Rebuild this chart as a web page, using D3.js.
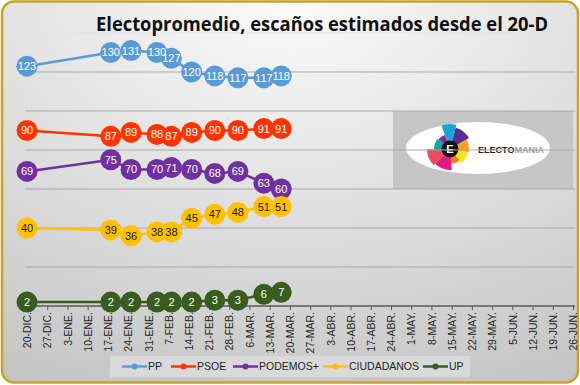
<!DOCTYPE html>
<html>
<head>
<meta charset="utf-8">
<script src="https://cdn.jsdelivr.net/npm/d3@7"></script>
<style>
  body { margin: 0; background: #fff; }
  svg { display: block; }
</style>
</head>
<body>
<div class="chart"></div>
<script>
// datos
const fechas = ["2015-12-20", "2016-01-18", "2016-01-25", "2016-02-03", "2016-02-08",
                "2016-02-15", "2016-02-23", "2016-03-02", "2016-03-11", "2016-03-17"];
const pp         = [123, 130, 131, 130, 127, 120, 118, 117, 117, 118];
const psoe       = [90, 87, 89, 88, 87, 89, 90, 90, 91, 91];
const podemos    = [69, 75, 70, 70, 71, 70, 68, 69, 63, 60];
const ciudadanos = [40, 39, 36, 38, 38, 45, 47, 48, 51, 51];
const up         = [2, 2, 2, 2, 2, 2, 3, 3, 6, 7];
const partidos = ["PP", "PSOE", "PODEMOS+", "CIUDADANOS", "UP"];
const tickLabels = ["20-DIC.", "27-DIC.", "3-ENE.", "10-ENE.", "17-ENE.", "24-ENE.", "31-ENE.",
  "7-FEB.", "14-FEB.", "21-FEB.", "28-FEB.", "6-MAR.", "13-MAR.", "20-MAR.", "27-MAR.",
  "3-ABR.", "10-ABR.", "17-ABR.", "24-ABR.", "1-MAY.", "8-MAY.", "15-MAY.", "22-MAY.",
  "29-MAY.", "5-JUN.", "12-JUN.", "19-JUN.", "26-JUN."];
const yTicks = [20, 40, 60, 80, 100, 120, 140];

const W = 580, H = 385;
const colores = ["#5b9bd5", "#ff3300", "#7030a0", "#ffc000", "#385d1f"];
const textoColor = ["#fff", "#fff", "#fff", "#1a1a1a", "#fff"];
const parseFecha = d3.timeParse("%Y-%m-%d");

const svg = d3.select(".chart").append("svg")
  .attr("width", W).attr("height", H);

// fondo con degradado
const defs = svg.append("defs");
const grad = defs.append("radialGradient").attr("id", "bg")
  .attr("cx", "50%").attr("cy", "0%").attr("r", "110%");
grad.append("stop").attr("offset", "0%").attr("stop-color", "#fbfbfb");
grad.append("stop").attr("offset", "100%").attr("stop-color", "#c4c4c4");

svg.append("rect")
  .attr("x", 2).attr("y", 1.5).attr("width", W - 4).attr("height", H - 4)
  .attr("rx", 12).attr("ry", 12)
  .attr("fill", "url(#bg)")
  .attr("stroke", "#c9a227").attr("stroke-width", 2.5);

// escalas
const start = parseFecha(fechas[0]);
const tickDates = tickLabels.map((d, i) => d3.timeDay.offset(start, i * 7));
const x = d3.scaleTime().domain([tickDates[0], tickDates[tickDates.length - 1]]).range([27, 573]);
const y = d3.scaleLinear().domain([0, 140]).range([306, 33]);

// logo (detrás de las líneas de la rejilla)
const logo = svg.append("g");
logo.append("rect").attr("x", 393).attr("y", 111).attr("width", 180).attr("height", 78)
  .attr("fill", "#c6c6c6");
logo.append("ellipse").attr("cx", 478).attr("cy", 148).attr("rx", 72).attr("ry", 26)
  .attr("fill", "#fff");
const petalos = [
  { a0: -20, a1: 15, r: 25, c: "#1ba3dc" },
  { a0: 15, a1: 60, r: 22, c: "#5a2d91" },
  { a0: 60, a1: 100, r: 19, c: "#f6a31b" },
  { a0: 100, a1: 140, r: 18, c: "#ffe11a" },
  { a0: 140, a1: 175, r: 15, c: "#f47b20" },
  { a0: 175, a1: 225, r: 21, c: "#e6197d" },
  { a0: 225, a1: 270, r: 23, c: "#ee4a5d" },
  { a0: 270, a1: 310, r: 16, c: "#12a89a" },
  { a0: 310, a1: 340, r: 15, c: "#7a2f8f" }
];
const arc = d3.arc().innerRadius(0);
logo.selectAll(".petalo").data(petalos).enter().append("path")
  .attr("transform", "translate(450,149)")
  .attr("d", d => arc({ outerRadius: d.r, startAngle: d.a0 * Math.PI / 180, endAngle: d.a1 * Math.PI / 180 }))
  .attr("fill", d => d.c);
logo.append("circle").attr("cx", 450).attr("cy", 149).attr("r", 8.5).attr("fill", "#111");
logo.append("text").attr("x", 450).attr("y", 153).attr("text-anchor", "middle")
  .attr("font-family", "Liberation Sans, Arial").attr("font-weight", "bold")
  .attr("font-size", 11).attr("fill", "#fff").text("E");
const logoTxt = logo.append("text").attr("x", 478).attr("y", 153)
  .attr("font-family", "Liberation Sans, Arial").attr("font-weight", "bold")
  .attr("font-size", 9).attr("textLength", 66).attr("lengthAdjust", "spacingAndGlyphs");
logoTxt.append("tspan").attr("fill", "#222").text("ELECTO");
logoTxt.append("tspan").attr("fill", "#9a9a9a").text("MANIA");

// rejilla
svg.selectAll(".grid").data(yTicks).enter().append("line")
  .attr("x1", 25).attr("x2", 575)
  .attr("y1", d => y(d)).attr("y2", d => y(d))
  .attr("stroke", d => d === 140 ? "#e2e2e2" : "#a9a9a9").attr("stroke-width", 1);

// eje x
const xAxis = d3.axisBottom(x).tickValues(tickDates)
  .tickFormat((d, i) => tickLabels[i]).tickSize(4).tickSizeOuter(0);
const gx = svg.append("g").attr("transform", `translate(0,${y(0)})`).call(xAxis);
gx.select(".domain").attr("stroke", "#595959").attr("stroke-width", 1.5)
  .attr("d", `M25,0H575`);
gx.selectAll(".tick line").attr("stroke", "#595959");
gx.selectAll(".tick text")
  .attr("transform", "rotate(-90)")
  .attr("text-anchor", "end")
  .attr("x", -6).attr("y", 0).attr("dy", "0.35em")
  .attr("font-family", "Liberation Sans Narrow, Liberation Sans, Arial")
  .attr("font-size", 10.5).attr("fill", "#262626");

// series
const series = [pp, psoe, podemos, ciudadanos, up].map((vals, k) => ({
  name: partidos[k], color: colores[k], tc: textoColor[k],
  values: vals.map((v, i) => ({ date: parseFecha(fechas[i]), v: v }))
}));

const line = d3.line().x(d => x(d.date)).y(d => y(d.v));

const gs = svg.selectAll(".serie").data(series).enter().append("g");
gs.append("path")
  .attr("d", d => line(d.values))
  .attr("fill", "none").attr("stroke", d => d.color).attr("stroke-width", 2.5);
gs.selectAll("circle").data(d => d.values.map(p => ({ ...p, s: d }))).enter().append("circle")
  .attr("cx", d => x(d.date)).attr("cy", d => y(d.v)).attr("r", 10.5)
  .attr("fill", d => d.s.color);
gs.selectAll(".lbl").data(d => d.values.map(p => ({ ...p, s: d }))).enter().append("text")
  .attr("x", d => x(d.date)).attr("y", d => y(d.v)).attr("dy", "0.36em")
  .attr("text-anchor", "middle")
  .attr("font-family", "Liberation Sans Narrow, Liberation Sans, Arial")
  .attr("font-size", 11).attr("fill", d => d.s.tc)
  .text(d => d.v);

// título
svg.append("text").attr("x", 322).attr("y", 31).attr("text-anchor", "middle")
  .attr("font-family", "Open Sans, Liberation Sans, Arial").attr("font-weight", "bold")
  .attr("font-size", 19).attr("fill", "#111")
  .attr("textLength", 452).attr("lengthAdjust", "spacingAndGlyphs")
  .text("Electopromedio, escaños estimados desde el 20-D");

// leyenda
const legX = [122, 171, 233, 323, 423];
const leg = svg.append("g");
leg.append("rect").attr("x", 110).attr("y", 356).attr("width", 360).attr("height", 21)
  .attr("fill", "#d9d9d9");
const li = leg.selectAll(".li").data(series).enter().append("g")
  .attr("transform", (d, i) => `translate(${legX[i]},366.5)`);
li.append("line").attr("x1", 0).attr("x2", 25)
  .attr("stroke", d => d.color).attr("stroke-width", 2.5);
li.append("circle").attr("cx", 12.5).attr("r", 3).attr("fill", d => d.color);
li.append("text").attr("x", 26).attr("dy", "0.35em")
  .attr("font-family", "Liberation Sans Narrow, Liberation Sans, Arial")
  .attr("font-size", 10.5).attr("fill", "#262626")
  .text(d => d.name);
</script>
</body>
</html>
